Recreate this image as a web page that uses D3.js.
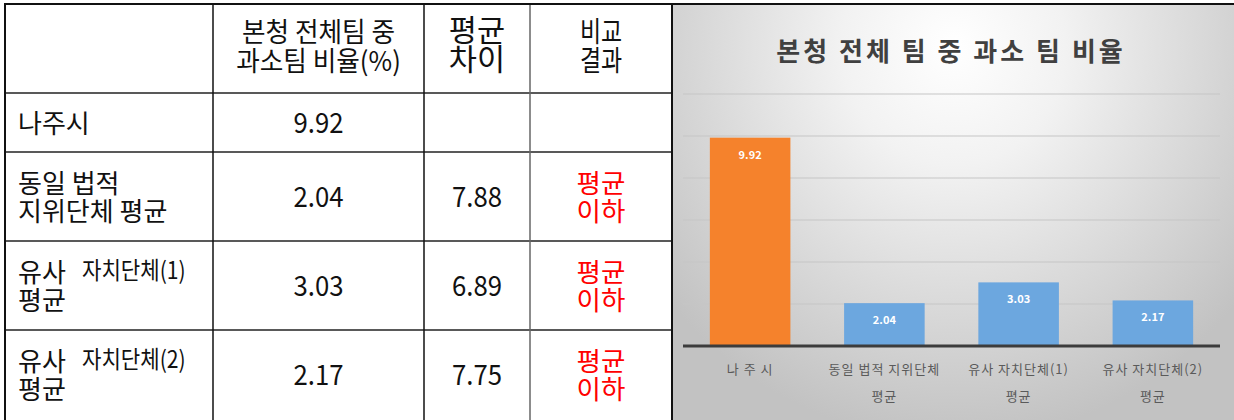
<!DOCTYPE html>
<html>
<head>
<meta charset="utf-8">
<script src="https://cdn.jsdelivr.net/npm/d3@7"></script>
<style>
  html, body { margin: 0; padding: 0; background: #fff; }
  svg { display: block; }
</style>
</head>
<body>
<div id="vis"></div>
<script>
// table data
const tableHeaders = [[""], ["본청 전체팀 중", "과소팀 비율(%)"], ["평균", "차이"], ["비교", "결과"]];
const rowLabels = [["나주시"], ["동일  법적", "지위단체 평균"], ["유사", "평균"], ["유사", "평균"]];
const rowLabelSmall = ["", "", "자치단체(1)", "자치단체(2)"];
const ratios = [9.92, 2.04, 3.03, 2.17];
const diffs = [null, 7.88, 6.89, 7.75];
const results = [[], ["평균", "이하"], ["평균", "이하"], ["평균", "이하"]];

// chart data
const chartTitle = "본청 전체 팀 중 과소 팀 비율";
const chartCats = [["나 주 시"], ["동일 법적 지위단체", "평균"], ["유사 자치단체(1)", "평균"], ["유사 자치단체(2)", "평균"]];
const barColors = ["#f5822c", "#6ca7df", "#6ca7df", "#6ca7df"];
const yTicks = [2, 4, 6, 8, 10, 12];

const W = 1234, H = 420;
const font = "'Noto Sans CJK KR', 'Noto Sans', sans-serif";

let svg = d3.select("#vis").append("svg")
    .attr("width", W)
    .attr("height", H);

// ---------- table ----------
let colX = [5, 213, 424, 530, 672];
let rowY = [4, 93, 152, 241, 330, 420];

let table = svg.append("g");

// helper: (multi-line) text with horizontal squeeze, one text element per cell
function addText(g, x, y, lines, opts) {
    let sx = opts.sx || 1;
    let t = g.append("text")
        .attr("transform", `translate(${x},${y}) scale(${sx},1)`)
        .attr("text-anchor", opts.anchor || "middle")
        .attr("font-family", font)
        .attr("font-size", opts.size || 28)
        .attr("fill", opts.color || "#111");
    [].concat(lines).forEach((l, i) => {
        t.append("tspan")
            .attr("x", 0)
            .attr("y", i * (opts.lh || 28))
            .text(l);
    });
    return t;
}

// header
let headerSize = [27, 27, 30, 28];
let headerSx = [1, 0.95, 1.02, 0.82];
let headerBase = [42, 42, 41, 42];
tableHeaders.forEach((lines, c) => {
    let cx = (colX[c] + colX[c + 1]) / 2;
    addText(table, cx, headerBase[c], lines, {size: headerSize[c], sx: headerSx[c], lh: 29});
});

// body rows
ratios.forEach((v, r) => {
    let top = rowY[r + 1], bot = rowY[r + 2];
    let mid = (top + bot) / 2;
    let lines = rowLabels[r];
    let base0 = lines.length === 1 ? mid + 10 : mid - 4;

    addText(table, 18, base0, lines, {anchor: "start", size: 26, lh: 28});
    if (rowLabelSmall[r]) {
        // the squeezed, raised part of the label
        addText(table, 82, base0 - 3, rowLabelSmall[r], {anchor: "start", size: 24, sx: 0.88});
    }

    addText(table, (colX[1] + colX[2]) / 2, mid + 10, v.toFixed(2), {size: 28, sx: 0.92});
    if (diffs[r] != null) {
        addText(table, (colX[2] + colX[3]) / 2, mid + 10, diffs[r].toFixed(2), {size: 28, sx: 0.92});
    }
    if (results[r].length) {
        addText(table, (colX[3] + colX[4]) / 2, mid - 4, results[r], {size: 26, sx: 1.02, lh: 28, color: "#ff0000"});
    }
});

// ---------- chart background ----------
let defs = svg.append("defs");
let grad = defs.append("radialGradient")
    .attr("id", "bg")
    .attr("cx", "0.5").attr("cy", "0.1")
    .attr("r", "0.95")
    .attr("gradientTransform", "translate(0.5,0.1) scale(0.7,1) translate(-0.5,-0.1)");
grad.append("stop").attr("offset", "0").attr("stop-color", "#ffffff");
grad.append("stop").attr("offset", "0.3").attr("stop-color", "#f2f2f2");
grad.append("stop").attr("offset", "1").attr("stop-color", "#c2c2c2");

svg.append("rect")
    .attr("x", 673).attr("y", 5)
    .attr("width", W - 673).attr("height", H - 5)
    .attr("fill", "url(#bg)");

// table lines
table.selectAll(".hline")
    .data(rowY.slice(1, 5))
    .join("line")
    .attr("x1", colX[0]).attr("x2", colX[4])
    .attr("y1", d => d).attr("y2", d => d)
    .attr("stroke", "#222").attr("stroke-width", 1.5);

svg.selectAll(".vline")
    .data(colX)
    .join("line")
    .attr("x1", d => d).attr("x2", d => d)
    .attr("y1", 4).attr("y2", H)
    .attr("stroke", (d, i) => i === 3 ? "#666" : "#111")
    .attr("stroke-width", (d, i) => i === 0 || i === 4 ? 2 : 1.5);

svg.append("line")
    .attr("x1", 4).attr("x2", W)
    .attr("y1", 4).attr("y2", 4)
    .attr("stroke", "#111").attr("stroke-width", 2);

// ---------- chart ----------
let chart = svg.append("g");

let x = d3.scaleBand()
    .domain(chartCats.map(d => d.join(" ")))
    .range([683, 1220])
    .paddingInner(0.4)
    .paddingOuter(0.2);

let y = d3.scaleLinear()
    .domain([0, 12])
    .range([346, 94]);

chart.append("text")
    .attr("x", 951)
    .attr("y", 61)
    .attr("text-anchor", "middle")
    .attr("font-family", font)
    .attr("font-size", 26)
    .attr("font-weight", "bold")
    .attr("letter-spacing", 3)
    .attr("fill", "#404040")
    .text(chartTitle);

chart.selectAll(".grid")
    .data(yTicks)
    .join("line")
    .attr("x1", 683).attr("x2", 1220)
    .attr("y1", d => y(d)).attr("y2", d => y(d))
    .attr("stroke", "#c6c6c6")
    .attr("stroke-width", 1.2);

chart.selectAll(".bar")
    .data(ratios)
    .join("rect")
    .attr("x", (d, i) => x(chartCats[i].join(" ")))
    .attr("y", d => y(d))
    .attr("width", x.bandwidth())
    .attr("height", d => y(0) - y(d))
    .attr("fill", (d, i) => barColors[i]);

chart.selectAll(".val")
    .data(ratios)
    .join("text")
    .attr("x", (d, i) => x(chartCats[i].join(" ")) + x.bandwidth() / 2)
    .attr("y", d => y(d) + 21)
    .attr("text-anchor", "middle")
    .attr("font-family", font)
    .attr("font-size", 11)
    .attr("font-weight", "bold")
    .attr("fill", "#ffffff")
    .text(d => d.toFixed(2));

// x axis baseline
chart.append("line")
    .attr("x1", 683).attr("x2", 1220)
    .attr("y1", y(0)).attr("y2", y(0))
    .attr("stroke", "#3c3c3c")
    .attr("stroke-width", 3);

chartCats.forEach((lines, i) => {
    let cx = x(lines.join(" ")) + x.bandwidth() / 2;
    let t = chart.append("text")
        .attr("text-anchor", "middle")
        .attr("font-family", font)
        .attr("font-size", 13)
        .attr("letter-spacing", 1)
        .attr("fill", "#5a5a5a");
    lines.forEach((l, j) => {
        t.append("tspan")
            .attr("x", cx)
            .attr("y", 374 + j * 27)
            .text(l);
    });
});
</script>
</body>
</html>
